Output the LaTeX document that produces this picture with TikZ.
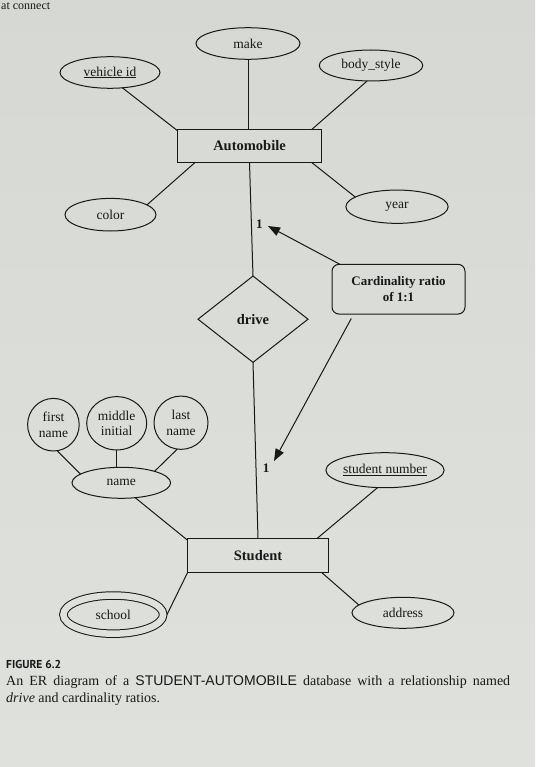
\documentclass[tikz,border=0pt]{standalone}
\usepackage{fontspec}
\setmainfont{Liberation Serif}
\newfontfamily\capsans{PT Sans}
\newfontfamily\arialsans{Liberation Sans}
\usetikzlibrary{shapes.geometric,arrows.meta,calc}
\definecolor{paperA}{RGB}{214,217,211}
\definecolor{paperB}{RGB}{223,225,221}
\definecolor{ink}{RGB}{24,24,24}
\tikzset{
  attr/.style={ellipse,draw=ink,line width=1pt,inner sep=0pt,outer sep=0pt,
    text=ink,font=\fontsize{13.5}{15.7}\selectfont,align=center},
  entity/.style={rectangle,draw=ink,line width=1pt,inner sep=0pt,outer sep=0pt,
    text=ink,font=\bfseries\fontsize{14.5}{17}\selectfont},
  rel/.style={diamond,draw=ink,line width=1pt,inner sep=0pt,outer sep=0pt,
    aspect=1.28,text=ink,font=\bfseries\fontsize{14.5}{17}\selectfont},
  note/.style={rectangle,rounded corners=7pt,draw=ink,line width=1pt,inner sep=0pt,
    outer sep=0pt,text=ink,font=\bfseries\fontsize{13}{15.7}\selectfont,align=center},
  link/.style={draw=ink,line width=1pt},
  pointer/.style={link,-{Triangle[length=12pt,width=9pt]}},
  cardlabel/.style={text=ink,inner sep=0pt,font=\bfseries\fontsize{13}{15}\selectfont},
  captext/.style={text=ink,anchor=base west,inner sep=0pt},
}
\begin{document}
\begin{tikzpicture}[x=1pt,y=-1pt]
\shade[top color=paperA,bottom color=paperB] (0,0) rectangle (535,767);
\useasboundingbox (0,0) rectangle (535,767);

\node[captext,font=\fontsize{12}{14}\selectfont] (topfrag) at (1,9.5) {at connect};

% Automobile and its attributes
\node[attr,minimum width=104pt,minimum height=31.6pt] (make) at (248,43.5) {make};
\node[attr,minimum width=100pt,minimum height=31.6pt] (vid) at (110,72.5) {\underline{vehicle id}};
\node[attr,minimum width=103.5pt,minimum height=31pt] (bstyle) at (371,65.5) {body\_style};
\node[entity,minimum width=144pt,minimum height=33.5pt] (auto) at (249.5,146) {Automobile};
\node[attr,minimum width=91pt,minimum height=32.6pt] (color) at (110.5,214.7) {color};
\node[attr,minimum width=102.3pt,minimum height=33.3pt] (year) at (397,206.7) {year};

% relationship and note
\node[rel,minimum width=110pt,minimum height=86.3pt] (drive) at (253,319.2) {drive};
\node[note,minimum width=133pt,minimum height=49.7pt] (card) at (398.5,289.2) {Cardinality ratio\\of 1:1};

% Student and its attributes
\node[attr,minimum width=51.6pt,minimum height=52.6pt] (first) at (53.4,424.7) {first\\name};
\node[attr,minimum width=60pt,minimum height=53.3pt] (middle) at (116.7,423.3) {middle\\initial};
\node[attr,minimum width=54pt,minimum height=53.3pt] (last) at (181,422.7) {last\\name};
\node[attr,minimum width=98.6pt,minimum height=31pt] (name) at (121.3,482.8) {name};
\node[attr,minimum width=116.8pt,minimum height=35pt] (snum) at (385,470.2) {\underline{student number}};
\node[entity,minimum width=140.6pt,minimum height=34pt] (student) at (258,555.3) {Student};
\node[attr,double=paperB,double distance=6.5pt,outer sep=3.8pt,minimum width=99.8pt,minimum height=38.2pt] (school) at (113.3,614.6) {school};
\node[attr,minimum width=102pt,minimum height=31pt] (address) at (403,612.8) {address};

% connectors
\draw[link] (vid.-51) -- (auto.168);
\draw[link] (make.south) -- (make.south |- auto.north);
\draw[link] (bstyle.-104) -- (auto.15.7);
\draw[link] (color.15) -- (auto.-163);
\draw[link] (year.167.6) -- (auto.-15.4);
\draw[link] (auto.south) -- (drive.north);
\draw[link] (drive.south) -- (student.north);
\draw[link] (first.-82) -- (name.168.6);
\draw[link] (middle.south) -- (middle.south |- name.north);
\draw[link] (last.-98.7) -- (name.19);
\draw[link] (name.-47) -- (student.168.4);
\draw[link] (snum.-113) -- (student.16);
\draw[link] (student.south west) -- (school.east);
\draw[link] (student.-15) -- (address.170);

% cardinality arrows
\coordinate (tipA) at (268,226);
\coordinate (tipB) at (274,461);
\draw[pointer] (card.157) -- (tipA);
\draw[pointer,shorten <=5pt] (card.209.7) -- (tipB);
\node[cardlabel] (oneA) at (259.4,224.3) {1};
\node[cardlabel] (oneB) at (266,468.3) {1};

% caption
\node[captext,font=\capsans\bfseries\fontsize{11.5}{14}\selectfont] (fig) at (6,668.5) {FIGURE 6.2};
\node[captext,font=\fontsize{14}{17}\selectfont] (capA) at (6,685)
  {\makebox[504pt][s]{An ER diagram of a {\arialsans STUDENT-AUTOMOBILE} database with a relationship named}};
\node[captext,font=\fontsize{14}{17}\selectfont] (capB) at (6,702.7) {\textit{drive} and cardinality ratios.};
\end{tikzpicture}
\end{document}
